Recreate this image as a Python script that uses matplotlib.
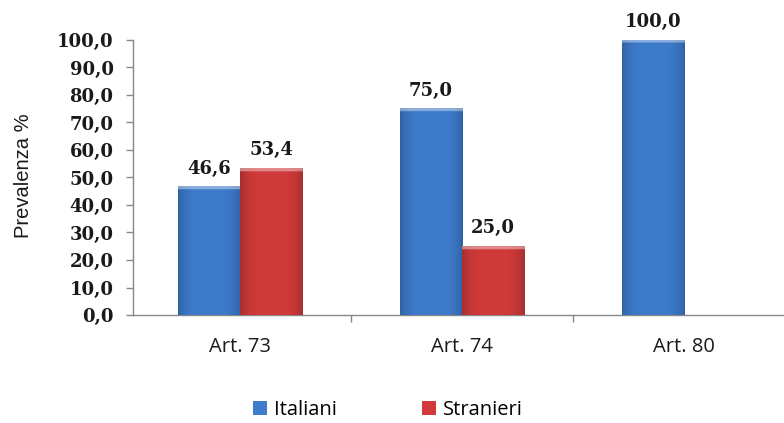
import numpy as np
import matplotlib.pyplot as plt
from matplotlib.colors import to_rgb

# prevalenza per articolo, italiani vs stranieri
categorie = ['Art. 73', 'Art. 74', 'Art. 80']
italiani = [46.6, 75.0, 100.0]
stranieri = [53.4, 25.0, 0.0]
yticks = [0, 10, 20, 30, 40, 50, 60, 70, 80, 90, 100]

blu = '#3D7BCB'
rosso = '#D03A3A'

fig = plt.figure(figsize=(7.84, 4.23), dpi=100)
ax = fig.add_axes([133/784, 1 - 315/423, 1 - 133/784, (315 - 40)/423])

x = np.arange(len(categorie))
w = 0.28
xmin = -107/222


def sfumatura(col, h):
    # bordi laterali piu scuri, bordo alto schiarito
    c = np.array(to_rgb(col))
    u = np.linspace(-1, 1, 60)
    k = 1 - 0.2 * np.abs(u) ** 4
    n = 400
    img = np.ones((n, 60, 3)) * c * k[None, :, None]
    top = max(1, int(round(n * 1.2 / max(h, 1))))
    img[:top] = img[:top] * 0.6 + 0.4
    return np.clip(img, 0, 1)


def barre(pos, vals, col, lab):
    bars = ax.bar(pos, vals, w, color=col, edgecolor='none', label=lab, zorder=2)
    for b, v in zip(bars, vals):
        if v <= 0:
            continue
        x0, h = b.get_x(), b.get_height()
        ax.imshow(sfumatura(col, h), extent=(x0, x0 + w, 0, h),
                  aspect='auto', zorder=3, interpolation='bilinear')
        ax.annotate(f'{v:.1f}'.replace('.', ','), (x0 + w / 2, h),
                    xytext=(0, 9.5), textcoords='offset points',
                    ha='center', va='baseline', fontsize=13,
                    fontweight='bold', family='DejaVu Serif', color='#1a1a1a')
    return bars

barre(x - w / 2, italiani, blu, 'Italiani')
barre(x + w / 2, stranieri, rosso, 'Stranieri')

ax.set_xlim(xmin, xmin + 651/222)
ax.set_ylim(0, 100)
ax.set_yticks(yticks)
ax.set_yticklabels([f'{t:.1f}'.replace('.', ',') for t in yticks],
                   fontsize=13, fontweight='bold', family='DejaVu Serif',
                   color='#1a1a1a')
ax.tick_params(axis='y', length=5, width=1, color='#888888', pad=9)

ax.set_xticks(x)
ax.set_xticklabels(categorie, fontsize=14.5, family='Open Sans', color='#1a1a1a')
ax.tick_params(axis='x', which='major', length=0, pad=16)
ax.set_xticks([0.5, 1.5], minor=True)
ax.tick_params(axis='x', which='minor', length=5, width=1, color='#888888',
               direction='out')

for s in ['top', 'right']:
    ax.spines[s].set_visible(False)
for s in ['left', 'bottom']:
    ax.spines[s].set_color('#888888')
    ax.spines[s].set_linewidth(1)

ax.set_ylabel('Prevalenza %', fontsize=14.5, family='Liberation Sans',
              color='#1a1a1a')
ax.yaxis.set_label_coords(-(133 - 33)/651, (315 - 176)/275)

fig.legend(handles=[ax.containers[0][0], ax.containers[1][0]],
           labels=['Italiani', 'Stranieri'], loc='center',
           bbox_to_anchor=(388/784, 1 - 410/423), ncol=2, frameon=False,
           handlelength=0.7, handleheight=0.7, handletextpad=0.35,
           columnspacing=4.2, prop={'family': 'Open Sans', 'size': 14.5})

fig.savefig('out.png', dpi=100)
